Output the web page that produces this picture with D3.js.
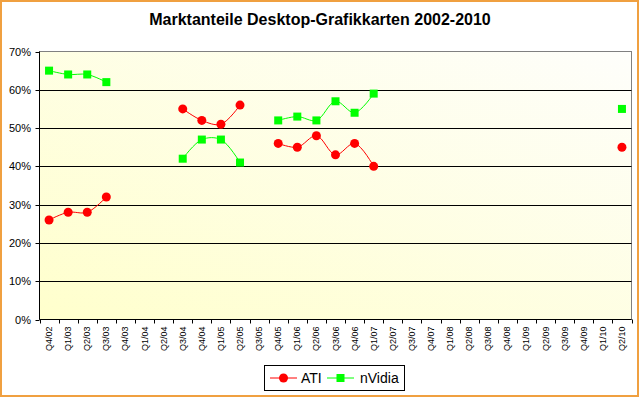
<!DOCTYPE html>
<html>
<head>
<meta charset="utf-8">
<script src="https://cdn.jsdelivr.net/npm/d3@7"></script>
<style>
  body { margin: 0; background: #fff; }
  svg { display: block; font-family: "Liberation Sans", Arial, sans-serif; }
</style>
</head>
<body>
<div id="chart"></div>
<script>
const quarters = ['Q4/02', 'Q1/03', 'Q2/03', 'Q3/03', 'Q4/03', 'Q1/04', 'Q2/04', 'Q3/04', 'Q4/04',
  'Q1/05', 'Q2/05', 'Q3/05', 'Q4/05', 'Q1/06', 'Q2/06', 'Q3/06', 'Q4/06', 'Q1/07', 'Q2/07', 'Q3/07',
  'Q4/07', 'Q1/08', 'Q2/08', 'Q3/08', 'Q4/08', 'Q1/09', 'Q2/09', 'Q3/09', 'Q4/09', 'Q1/10', 'Q2/10'];

// null = no value for that quarter
const ati = [26, 28, 28, 32, null, null, null, 55, 52, 51, 56, null, 46, 45, 48, 43, 46, 40,
  null, null, null, null, null, null, null, null, null, null, null, null, 45];
const nvidia = [65, 64, 64, 62, null, null, null, 42, 47, 47, 41, null, 52, 53, 52, 57, 54, 59,
  null, null, null, null, null, null, null, null, null, null, null, null, 55];

const yTicks = [0, 10, 20, 30, 40, 50, 60, 70];

const width = 640, height = 398;
const plotLeft = 39.5, plotRight = 631.5, plotTop = 51.5, plotBottom = 319.5;

const svg = d3.select('#chart').append('svg')
  .attr('width', width)
  .attr('height', height);

const defs = svg.append('defs');
const grad = defs.append('linearGradient')
  .attr('id', 'plotbg')
  .attr('x1', '0%').attr('y1', '100%')
  .attr('x2', '100%').attr('y2', '0%');
grad.append('stop').attr('offset', '0%').attr('stop-color', '#ffffcc');
grad.append('stop').attr('offset', '100%').attr('stop-color', '#fefefb');

// outer frame
svg.append('rect')
  .attr('x', 1).attr('y', 1)
  .attr('width', width - 3).attr('height', height - 3)
  .attr('fill', '#fff')
  .attr('stroke', '#f0a040')
  .attr('stroke-width', 2);

svg.append('text')
  .attr('x', 320).attr('y', 25)
  .attr('text-anchor', 'middle')
  .attr('font-size', 16)
  .attr('font-weight', 'bold')
  .text('Marktanteile Desktop-Grafikkarten 2002-2010');

const x = d3.scaleBand().domain(quarters).range([plotLeft, plotRight]).padding(0);
const y = d3.scaleLinear().domain([0, 70]).range([plotBottom, plotTop]);
const cx = q => x(q) + x.bandwidth() / 2;

// plot area
svg.append('rect')
  .attr('x', plotLeft).attr('y', plotTop)
  .attr('width', plotRight - plotLeft).attr('height', plotBottom - plotTop)
  .attr('fill', 'url(#plotbg)')
  .attr('stroke', '#808080')
  .attr('stroke-width', 1);

// gridlines
svg.append('g').selectAll('line')
  .data(yTicks.filter(t => t > 0 && t < 70))
  .join('line')
  .attr('x1', plotLeft).attr('x2', plotRight)
  .attr('y1', d => Math.round(y(d)) + 0.5).attr('y2', d => Math.round(y(d)) + 0.5)
  .attr('stroke', '#000');

// y axis
const yAxis = svg.append('g');
yAxis.append('line')
  .attr('x1', plotLeft).attr('x2', plotLeft)
  .attr('y1', plotTop).attr('y2', plotBottom)
  .attr('stroke', '#000');
yAxis.selectAll('line.tick')
  .data(yTicks)
  .join('line')
  .attr('class', 'tick')
  .attr('x1', plotLeft - 4).attr('x2', plotLeft)
  .attr('y1', d => Math.round(y(d)) + 0.5).attr('y2', d => Math.round(y(d)) + 0.5)
  .attr('stroke', '#000');
yAxis.selectAll('text')
  .data(yTicks)
  .join('text')
  .attr('x', 31)
  .attr('y', d => y(d) + 4)
  .attr('text-anchor', 'end')
  .attr('font-size', 11)
  .text(d => d + '%');

// x axis
const xAxis = svg.append('g');
xAxis.append('line')
  .attr('x1', plotLeft).attr('x2', plotRight)
  .attr('y1', plotBottom).attr('y2', plotBottom)
  .attr('stroke', '#000');
xAxis.selectAll('line.tick')
  .data(quarters.concat(['end']))
  .join('line')
  .attr('class', 'tick')
  .attr('x1', d => Math.round(d === 'end' ? plotRight : x(d)) + 0.5)
  .attr('x2', d => Math.round(d === 'end' ? plotRight : x(d)) + 0.5)
  .attr('y1', plotBottom).attr('y2', plotBottom + 4)
  .attr('stroke', '#000');
xAxis.selectAll('text')
  .data(quarters)
  .join('text')
  .attr('transform', d => `translate(${cx(d) + 3},${plotBottom + 7}) rotate(-90)`)
  .attr('text-anchor', 'end')
  .attr('font-size', 9)
  .text(d => d);

const line = d3.line()
  .defined(d => d.v != null)
  .x(d => cx(d.q))
  .y(d => y(d.v))
  .curve(d3.curveCatmullRom.alpha(0.5));

const series = [
  { name: 'ATI', values: ati, color: '#ff0000', shape: 'circle' },
  { name: 'nVidia', values: nvidia, color: '#00ff00', shape: 'square' }
];

function marker(g, shape, color) {
  if (shape === 'circle') {
    g.append('circle').attr('r', 4.5).attr('fill', color);
  } else {
    g.append('rect').attr('x', -4).attr('y', -4).attr('width', 8).attr('height', 8).attr('fill', color);
  }
}

series.forEach(s => {
  const pts = quarters.map((q, i) => ({ q: q, v: s.values[i] }));
  svg.append('path')
    .datum(pts)
    .attr('d', line)
    .attr('fill', 'none')
    .attr('stroke', s.color)
    .attr('stroke-width', 1);
  svg.append('g').selectAll('g')
    .data(pts.filter(p => p.v != null))
    .join('g')
    .attr('transform', d => `translate(${cx(d.q)},${y(d.v)})`)
    .each(function () { marker(d3.select(this), s.shape, s.color); });
});

// legend
const legend = svg.append('g');
legend.append('rect')
  .attr('x', 264.5).attr('y', 365.5)
  .attr('width', 140).attr('height', 25)
  .attr('fill', '#fff')
  .attr('stroke', '#000');
const lx = [270, 327];
series.forEach((s, i) => {
  const g = legend.append('g').attr('transform', `translate(${lx[i]},378)`);
  g.append('line').attr('x1', 0).attr('x2', 27).attr('stroke', s.color);
  const m = g.append('g').attr('transform', 'translate(13.5,0)');
  marker(m, s.shape, s.color);
  g.append('text')
    .attr('x', i === 0 ? 31 : 33)
    .attr('y', 5)
    .attr('font-size', 14)
    .text(s.name);
});
</script>
</body>
</html>
